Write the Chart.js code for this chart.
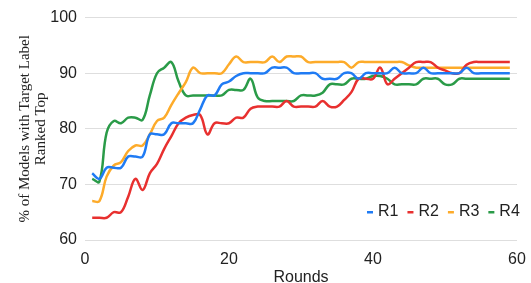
<!DOCTYPE html>
<html>
<head>
<meta charset="utf-8">
<script src="https://cdn.jsdelivr.net/npm/chart.js@4/dist/chart.umd.min.js"></script>
<style>
  html, body { margin: 0; padding: 0; background: #fff; }
  #wrap { width: 531px; height: 283px; }
</style>
</head>
<body>
<div id="wrap"><canvas id="chart" width="531" height="283"></canvas></div>
<script>
// rounds on the x axis
const rounds = [1, 2, 3, 4, 5, 6, 7, 8, 9, 10, 11, 12, 13, 14, 15, 16, 17, 18, 19, 20,
  21, 22, 23, 24, 25, 26, 27, 28, 29, 30, 31, 32, 33, 34, 35, 36, 37, 38, 39, 40,
  41, 42, 43, 44, 45, 46, 47, 48, 49, 50, 51, 52, 53, 54, 55, 56, 57, 58, 59];

const r1 = [72, 71, 73, 73, 73, 75, 75, 75, 79, 79, 79, 81, 81, 81, 81, 83.5, 86, 86, 88, 88.5,
  89.5, 90, 90, 90, 90, 91, 91, 91, 90, 90, 90, 90, 89, 89, 89, 90, 90, 89, 90, 90,
  90, 90, 91, 90, 90, 90, 91, 90, 90, 90, 90, 90, 91, 90, 90, 90, 90, 90, 90];
const r2 = [64, 64, 64, 65, 65, 67.8, 71, 69, 72, 73.7, 76.4, 78.7, 81, 82, 82.5, 82.5, 79, 81, 81, 81,
  82, 82, 83.6, 84, 84, 84, 84, 85, 84, 84, 84, 84, 85, 84, 84, 85.2, 86.6, 89, 89, 89,
  91, 88, 89, 90, 91, 92, 92, 92, 91, 90.5, 90, 90, 91.5, 92, 92, 92, 92, 92, 92];
const r3 = [67, 67, 71.4, 73.4, 74, 76, 77, 77, 79, 81.4, 82, 84.3, 86.4, 88.4, 91, 90, 90, 90, 90, 91.6,
  93, 92, 92, 92, 92, 93, 92, 93, 93, 93, 92, 92, 92, 92, 92, 92, 91, 92, 92, 92,
  92, 92, 92, 92, 91.4, 91, 91, 91, 91, 91, 91, 91, 91, 91, 91, 91, 91, 91, 91];
const r4 = [71, 70.5, 79.3, 81.4, 81, 82, 82, 81.6, 86, 90, 91, 92, 88.5, 86, 86, 86, 86, 86, 86, 87,
  87, 87, 89, 85.6, 85, 85, 85, 85, 85, 86, 86, 86, 86.5, 88, 88, 88, 89, 89, 89, 89.5,
  89.5, 89, 88, 88, 88, 88, 89, 89, 89, 88, 88, 89, 89, 89, 89, 89, 89, 89, 89];

const seriesNames = ['R1', 'R2', 'R3', 'R4'];
const seriesValues = [r1, r2, r3, r4];
const seriesColors = ['#1f7bf4', '#e8302f', '#fdab2a', '#2a9b48'];

const yTitle = ['% of Models with Target Label', 'Ranked Top'];
const xTitle = 'Rounds';

const textColor = '#222';
const sans = "'Liberation Sans', Arial, sans-serif";
const serif = "'Liberation Serif', 'Times New Roman', serif";

// legend drawn inside the plot, bottom right
const insideLegend = {
    id: 'insideLegend',
    afterDraw(chart) {
        const ctx = chart.ctx;
        ctx.save();
        ctx.font = '16px ' + sans;
        ctx.textBaseline = 'middle';
        let x = 367;
        const y = 212;
        chart.data.datasets.forEach(ds => {
            ctx.fillStyle = ds.borderColor;
            ctx.fillRect(x, y - 1, 6, 2.5);
            x += 11;
            ctx.fillStyle = textColor;
            ctx.fillText(ds.label, x, y);
            x += ctx.measureText(ds.label).width + 9;
        });
        ctx.restore();
    }
};

const datasets = seriesNames.map((name, i) => ({
    label: name,
    data: rounds.map((r, j) => ({ x: r, y: seriesValues[i][j] })),
    borderColor: seriesColors[i],
    backgroundColor: seriesColors[i],
    borderWidth: 2.5,
    pointRadius: 0,
    tension: 0.4,
    fill: false
}));

new Chart(document.getElementById('chart'), {
    type: 'line',
    data: { datasets },
    plugins: [insideLegend],
    options: {
        responsive: false,
        animation: false,
        layout: { padding: { left: 0, right: 14, top: 14, bottom: 0 } },
        plugins: {
            legend: { display: false },
            tooltip: { enabled: false }
        },
        scales: {
            x: {
                type: 'linear',
                min: 0,
                max: 60,
                ticks: { stepSize: 20, padding: 2, color: textColor, font: { family: sans, size: 16 } },
                grid: { display: false },
                border: { display: false },
                title: {
                    display: true,
                    text: xTitle,
                    color: textColor,
                    font: { family: sans, size: 16 },
                    padding: { top: 0, bottom: -4 }
                },
                afterFit(scale) { scale.height = 43; }
            },
            y: {
                min: 60,
                max: 100,
                ticks: { stepSize: 10, padding: 8, color: textColor, font: { family: sans, size: 16 } },
                grid: { color: '#dedede', lineWidth: 1, drawTicks: false },
                border: { display: false },
                title: {
                    display: true,
                    text: yTitle,
                    color: textColor,
                    font: { family: serif, size: 15, lineHeight: 1.05 },
                    padding: { top: 17, bottom: 0 }
                },
                afterFit(scale) { scale.width = 85; }
            }
        }
    }
});
</script>
</body>
</html>
